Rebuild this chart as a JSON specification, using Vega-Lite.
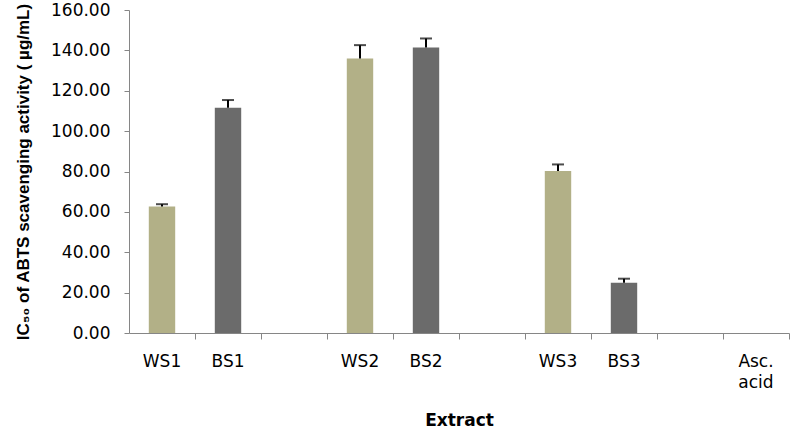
{
  "$schema": "https://vega.github.io/schema/vega-lite/v6.json",
  "width": 660,
  "height": 323,
  "autosize": {"type": "none"},
  "padding": {"left": 129, "top": 10, "right": 1, "bottom": 97},
  "background": "white",
  "config": {"view": {"stroke": null}},
  "data": {
    "values": [
      {"extract": "WS1", "group": "WS", "value": 62.7, "upper": 63.8},
      {"extract": "BS1", "group": "BS", "value": 111.6, "upper": 115.4},
      {"extract": "WS2", "group": "WS", "value": 136.0, "upper": 142.6},
      {"extract": "BS2", "group": "BS", "value": 141.4, "upper": 145.9},
      {"extract": "WS3", "group": "WS", "value": 80.2, "upper": 83.5},
      {"extract": "BS3", "group": "BS", "value": 24.9, "upper": 26.9}
    ]
  },
  "encoding": {
    "x": {
      "field": "extract",
      "type": "nominal",
      "scale": {
        "domain": ["WS1", "BS1", "g1", "WS2", "BS2", "g2", "WS3", "BS3", "g3", "Asc. acid"],
        "paddingInner": 0.6,
        "paddingOuter": 0.3
      },
      "axis": {
        "title": "Extract",
        "titleFont": "DejaVu Sans",
        "titleFontSize": 17,
        "titleFontWeight": "bold",
        "titleColor": "black",
        "titleBaseline": "middle",
        "titleY": 87,
        "labelAngle": 0,
        "labelFont": "DejaVu Sans",
        "labelFontSize": 17,
        "labelColor": "black",
        "labelPadding": 14,
        "labelLineHeight": 21,
        "labelBaseline": "top",
        "labelExpr": "indexof(datum.value, 'g') == 0 ? '' : (datum.value == 'Asc. acid' ? ['Asc.', 'acid'] : datum.value)",
        "bandPosition": 1.75,
        "tickSize": 6,
        "tickColor": "#868686",
        "domainColor": "#868686",
        "grid": false
      }
    }
  },
  "layer": [
    {
      "mark": {"type": "bar"},
      "encoding": {
        "y": {
          "field": "value",
          "type": "quantitative",
          "scale": {"domain": [0, 160], "nice": false},
          "axis": {
            "values": [0, 20, 40, 60, 80, 100, 120, 140, 160],
            "format": ".2f",
            "title": "IC₅₀ of ABTS scavenging activity ( µg/mL)",
            "titleFont": "Liberation Sans",
            "titleFontSize": 17,
            "titleFontWeight": "bold",
            "titleColor": "black",
            "titlePadding": 18,
            "labelFont": "DejaVu Sans",
            "labelFontSize": 17,
            "labelColor": "black",
            "labelPadding": 14,
            "tickSize": 5,
            "tickColor": "#868686",
            "domainColor": "#868686",
            "grid": false
          }
        },
        "color": {
          "field": "group",
          "type": "nominal",
          "scale": {"domain": ["WS", "BS"], "range": ["#b2b087", "#6b6b6b"]},
          "legend": null
        }
      }
    },
    {
      "mark": {"type": "rule", "color": "black", "strokeWidth": 2},
      "encoding": {
        "y": {"field": "value", "type": "quantitative"},
        "y2": {"field": "upper"}
      }
    },
    {
      "mark": {"type": "tick", "color": "black", "thickness": 2, "size": 12},
      "encoding": {
        "y": {"field": "upper", "type": "quantitative"}
      }
    }
  ]
}
